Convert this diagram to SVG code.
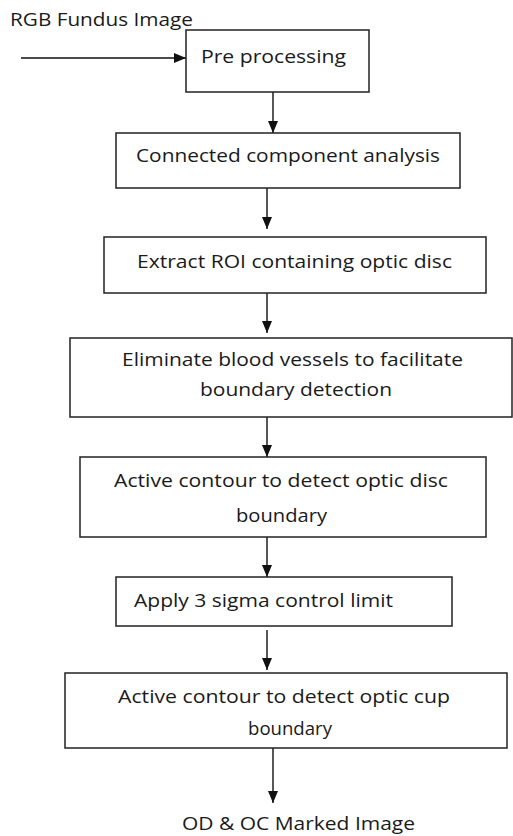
<svg xmlns="http://www.w3.org/2000/svg" width="513" height="836" viewBox="0 0 513 836">
<style>
.box{fill:#fff;stroke:#222;stroke-width:1.5}
.t{font-family:"Open Sans","Liberation Sans",sans-serif;font-size:18.5px;fill:#1a1a1a}
.c{stroke:#111;stroke-width:1.4;fill:none;marker-end:url(#ah)}
</style>
<defs>
<marker id="ah" markerUnits="userSpaceOnUse" viewBox="0 0 12 10" markerWidth="12" markerHeight="10" refX="12" refY="5" orient="auto">
<path d="M0,0 L12,5 L0,10 z" fill="#111"/>
</marker>
</defs>
<rect width="513" height="836" fill="#fff"/>
<g id="connectors">
<line class="c" x1="21" y1="58" x2="186" y2="58"/>
<line class="c" x1="273" y1="92" x2="273" y2="133"/>
<line class="c" x1="267" y1="188" x2="267" y2="229"/>
<line class="c" x1="267" y1="293" x2="267" y2="333"/>
<line class="c" x1="267" y1="417" x2="267" y2="457"/>
<line class="c" x1="267" y1="537" x2="267" y2="577"/>
<line class="c" x1="267" y1="630" x2="267" y2="670"/>
<line class="c" x1="273" y1="748" x2="273" y2="803"/>
</g>
<g id="input">
<text class="t" x="10" y="26" textLength="183" lengthAdjust="spacingAndGlyphs">RGB Fundus Image</text>
</g>
<g id="n1">
<rect class="box" x="186" y="30" width="183" height="62"/>
<text class="t" x="201" y="63" textLength="145" lengthAdjust="spacingAndGlyphs">Pre processing</text>
</g>
<g id="n2">
<rect class="box" x="116" y="133" width="344" height="55"/>
<text class="t" x="136" y="162" textLength="304" lengthAdjust="spacingAndGlyphs">Connected component analysis</text>
</g>
<g id="n3">
<rect class="box" x="104" y="237" width="382" height="56"/>
<text class="t" x="137" y="268" textLength="315" lengthAdjust="spacingAndGlyphs">Extract ROI containing optic disc</text>
</g>
<g id="n4">
<rect class="box" x="70" y="338" width="442" height="79"/>
<text class="t" x="122" y="366" textLength="341" lengthAdjust="spacingAndGlyphs">Eliminate blood vessels to facilitate</text>
<text class="t" x="200" y="396" textLength="192" lengthAdjust="spacingAndGlyphs">boundary detection</text>
</g>
<g id="n5">
<rect class="box" x="80" y="457" width="406" height="80"/>
<text class="t" x="114" y="487" textLength="334" lengthAdjust="spacingAndGlyphs">Active contour to detect optic disc</text>
<text class="t" x="236" y="522" textLength="91" lengthAdjust="spacingAndGlyphs">boundary</text>
</g>
<g id="n6">
<rect class="box" x="116" y="577" width="336" height="49"/>
<text class="t" x="134" y="607" textLength="259" lengthAdjust="spacingAndGlyphs">Apply 3 sigma control limit</text>
</g>
<g id="n7">
<rect class="box" x="65" y="673" width="442" height="75"/>
<text class="t" x="118" y="703" textLength="332" lengthAdjust="spacingAndGlyphs">Active contour to detect optic cup</text>
<text class="t" x="248" y="735" textLength="84" lengthAdjust="spacingAndGlyphs">boundary</text>
</g>
<g id="output">
<text class="t" x="182" y="830" textLength="233" lengthAdjust="spacingAndGlyphs">OD &amp; OC Marked Image</text>
</g>
</svg>
